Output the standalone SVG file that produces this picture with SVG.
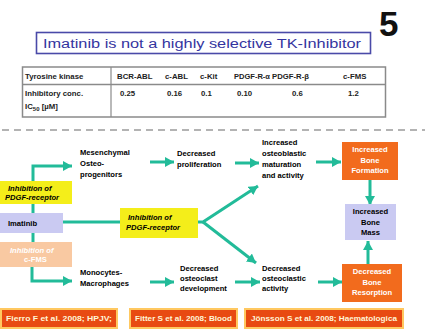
<svg xmlns="http://www.w3.org/2000/svg" width="427" height="333" viewBox="0 0 427 333">
<style>
.t{font-family:"Liberation Sans",Arial,sans-serif;font-weight:bold;font-size:7.6px;fill:#000}
.tw{font-family:"Liberation Sans",Arial,sans-serif;font-weight:bold;font-size:7.6px;fill:#fff}
.tb{font-family:"Liberation Sans",Arial,sans-serif;font-size:7.8px;fill:#222;font-weight:bold}
.c{fill:none;stroke:#22bb99;stroke-width:3}
.cite{fill:#e84a12;stroke:#ffc860;stroke-width:2}
.ct{font-family:"Liberation Sans",Arial,sans-serif;font-weight:bold;font-size:7px;fill:#fff6d8}
</style>
<defs>
<marker id="ah" markerUnits="userSpaceOnUse" markerWidth="10" markerHeight="10" refX="9" refY="5" orient="auto">
<path d="M0,0 L9,5 L0,10 Z" fill="#22bb99"/>
</marker>
</defs>
<rect width="427" height="333" fill="#fff"/>
<text x="379" y="36" font-family="Liberation Sans,Arial,sans-serif" font-size="35" font-weight="bold" fill="#111">5</text>
<g id="title">
<rect x="36.5" y="32.5" width="334" height="21" fill="#fff" stroke="#4a4aa8" stroke-width="1.6"/>
<text x="43" y="47.5" textLength="318" lengthAdjust="spacingAndGlyphs" font-family="Liberation Sans,Arial,sans-serif" font-size="12.5" fill="#3434a0">Imatinib is  not a highly selective TK-Inhibitor</text>
</g>
<g id="table">
<rect x="22.5" y="67" width="363" height="50" fill="#fff" stroke="#8a8a8a" stroke-width="1.5"/>
<line x1="22" y1="84.5" x2="386" y2="84.5" stroke="#8a8a8a" stroke-width="1.5"/>
<line x1="111" y1="67" x2="111" y2="117" stroke="#8a8a8a" stroke-width="1.2"/>
<text class="tb" x="25" y="79">Tyrosine kinase</text>
<text class="tb" x="117" y="79">BCR-ABL</text>
<text class="tb" x="165" y="79">c-ABL</text>
<text class="tb" x="200" y="79">c-Kit</text>
<text class="tb" x="234" y="79" textLength="36" lengthAdjust="spacingAndGlyphs">PDGF-R-α</text>
<text class="tb" x="272" y="79" textLength="37" lengthAdjust="spacingAndGlyphs">PDGF-R-β</text>
<text class="tb" x="343" y="79">c-FMS</text>
<text class="tb" x="25" y="96">Inhibitory conc.</text>
<text class="tb" x="25" y="109">IC<tspan font-size="6" dy="2">50</tspan><tspan dy="-2"> [µM]</tspan></text>
<text class="tb" x="120" y="96">0.25</text>
<text class="tb" x="167" y="96">0.16</text>
<text class="tb" x="201" y="96">0.1</text>
<text class="tb" x="237" y="96">0.10</text>
<text class="tb" x="292" y="96">0.6</text>
<text class="tb" x="348" y="96">1.2</text>
</g>
<line x1="2" y1="130" x2="425" y2="130" stroke="#9a9a9a" stroke-width="1.3" stroke-dasharray="7,5"/>
<g id="connectors">
<path class="c" d="M33,182 V166 H72" marker-end="url(#ah)"/>
<path class="c" d="M33,204 V214"/>
<path class="c" d="M33,232 V243"/>
<path class="c" d="M32,266 V281 H72" marker-end="url(#ah)"/>
<path class="c" d="M63,222 H121"/>
<path class="c" d="M150,162 H174" marker-end="url(#ah)"/>
<path class="c" d="M235,163 H259" marker-end="url(#ah)"/>
<path class="c" d="M316,162 H341" marker-end="url(#ah)"/>
<path class="c" d="M370,180 V205" marker-end="url(#ah)"/>
<path class="c" d="M368,265 V241" marker-end="url(#ah)"/>
<path class="c" d="M150,282 H174" marker-end="url(#ah)"/>
<path class="c" d="M235,282 H260" marker-end="url(#ah)"/>
<path class="c" d="M318,282 H342" marker-end="url(#ah)"/>
<path class="c" d="M198,222 L203,222 L258,186" marker-end="url(#ah)"/>
<path class="c" d="M203,222 L256,263" marker-end="url(#ah)"/>
</g>
<g id="pdgf1">
<rect x="0" y="181" width="72" height="23" fill="#f4ee1a"/>
<text class="t" x="8" y="190.5" font-style="italic">Inhibition of</text>
<text class="t" x="5" y="200" font-style="italic">PDGF-receptor</text>
</g>
<g id="imatinib">
<rect x="0" y="213" width="63" height="20" fill="#cacaf2"/>
<text class="t" x="8" y="225.5" font-size="8.5">Imatinib</text>
</g>
<g id="cfms">
<rect x="0" y="242" width="72" height="25" fill="#f9c9a2"/>
<text class="tw" x="10" y="252.5" font-style="italic">Inhibition of</text>
<text class="tw" x="24" y="262">c-FMS</text>
</g>
<g id="pdgf2">
<rect x="120" y="208" width="78" height="30" fill="#f4ee1a"/>
<text class="t" x="128" y="220" font-style="italic">Inhibition of</text>
<text class="t" x="126" y="230" font-style="italic">PDGF-receptor</text>
</g>
<g id="mesenchymal">
<text class="t" x="80" y="155">Mesenchymal</text>
<text class="t" x="80" y="166">Osteo-</text>
<text class="t" x="80" y="177">progenitors</text>
</g>
<g id="proliferation">
<text class="t" x="177" y="156">Decreased</text>
<text class="t" x="177" y="167">proliferation</text>
</g>
<g id="osteoblastic">
<text class="t" x="262" y="145">Increased</text>
<text class="t" x="262" y="156">osteoblastic</text>
<text class="t" x="262" y="167">maturation</text>
<text class="t" x="262" y="178">and activity</text>
</g>
<g id="boneformation">
<rect x="342" y="142" width="56" height="38" fill="#f26b1d"/>
<text class="tw" x="370" y="152" text-anchor="middle">Increased</text>
<text class="tw" x="370" y="162.5" text-anchor="middle">Bone</text>
<text class="tw" x="370" y="173" text-anchor="middle">Formation</text>
</g>
<g id="bonemass">
<rect x="345" y="204" width="51" height="36" fill="#cacaf2"/>
<text class="t" x="370.5" y="214" text-anchor="middle">Increased</text>
<text class="t" x="370.5" y="224.5" text-anchor="middle">Bone</text>
<text class="t" x="370.5" y="235" text-anchor="middle">Mass</text>
</g>
<g id="monocytes">
<text class="t" x="80" y="275">Monocytes-</text>
<text class="t" x="80" y="286">Macrophages</text>
</g>
<g id="development">
<text class="t" x="180" y="271">Decreased</text>
<text class="t" x="180" y="281">osteoclast</text>
<text class="t" x="180" y="291">development</text>
</g>
<g id="osteoclastic">
<text class="t" x="262" y="271">Decreased</text>
<text class="t" x="262" y="281">osteoclastic</text>
<text class="t" x="262" y="291">activity</text>
</g>
<g id="boneresorption">
<rect x="342" y="264" width="60" height="38" fill="#f26b1d"/>
<text class="tw" x="372" y="274" text-anchor="middle">Decreased</text>
<text class="tw" x="372" y="284.5" text-anchor="middle">Bone</text>
<text class="tw" x="372" y="295" text-anchor="middle">Resorption</text>
</g>
<g id="cite1">
<rect class="cite" x="1" y="309" width="116" height="19"/>
<text class="ct" x="6" y="321" textLength="106" lengthAdjust="spacingAndGlyphs">Fierro F et al. 2008; HPJV;</text>
</g>
<g id="cite2">
<rect class="cite" x="130" y="309" width="107" height="19"/>
<text class="ct" x="135" y="321" textLength="97" lengthAdjust="spacingAndGlyphs">Fitter S et al. 2008; Blood</text>
</g>
<g id="cite3">
<rect class="cite" x="245" y="309" width="158" height="19"/>
<text class="ct" x="251" y="321" textLength="146" lengthAdjust="spacingAndGlyphs">Jönsson S et al. 2008; Haematologica</text>
</g>
</svg>
